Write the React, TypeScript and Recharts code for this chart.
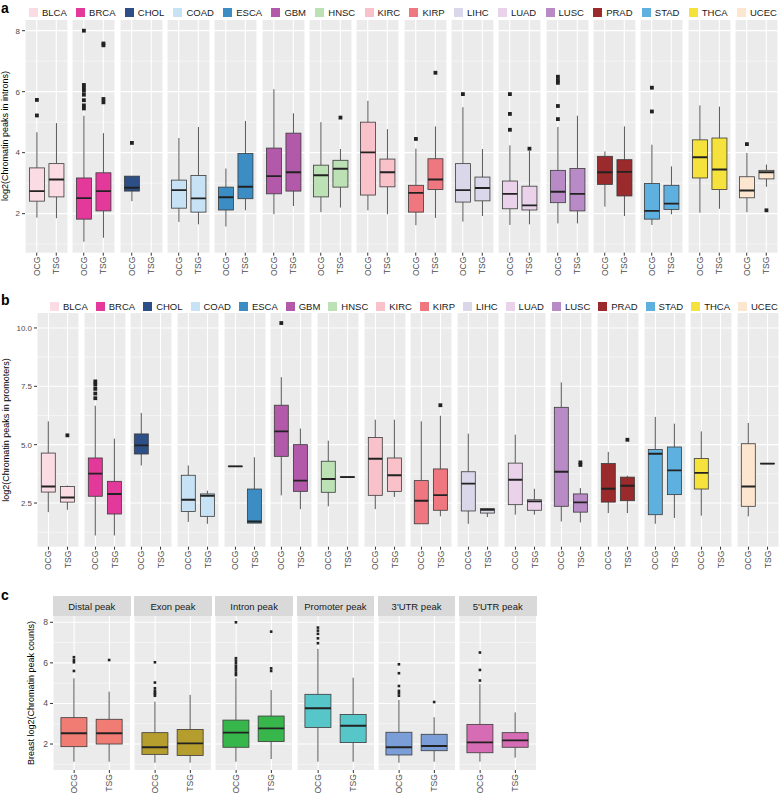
import React from "react";
import { ComposedChart, Bar, XAxis, YAxis, CartesianGrid } from "recharts";

// cancer types shown in panels a and b
const CANCERS = ["BLCA", "BRCA", "CHOL", "COAD", "ESCA", "GBM", "HNSC", "KIRC", "KIRP", "LIHC", "LUAD", "LUSC", "PRAD", "STAD", "THCA", "UCEC"];
const CANCER_COLORS = ["#FBDCE4", "#E2399A", "#2C4F87", "#C6E2F4", "#3B8DC3", "#B259A9", "#BBE1B5", "#F9C1CA", "#EF7880", "#D9D7E9", "#EAD3EA", "#B98BC6", "#9A2A2B", "#5EB1DE", "#F6E23C", "#FCE6D0"];
const GROUPS = ["OCG", "TSG"];

// box stats: [lower whisker, q1, median, q3, upper whisker]
type Stats = number[] | null;

// panel a: introns
const INTRON_OCG: Stats[] = [
  [1.87, 2.41, 2.74, 3.5, 4.67], [1.08, 1.82, 2.51, 3.17, 5.21], [2.41, 2.74, 2.85, 3.23, 3.23], [1.73, 2.18, 2.77, 3.1, 4.48],
  [1.58, 2.12, 2.54, 2.87, 3.48], [1.98, 2.65, 3.23, 4.15, 6.08], [2.05, 2.55, 3.26, 3.59, 5.0], [2.11, 2.61, 4.01, 5.0, 5.7],
  [1.62, 2.05, 2.68, 2.93, 4.13], [1.74, 2.38, 2.77, 3.64, 5.49], [1.63, 2.16, 2.65, 3.07, 4.24], [1.68, 2.36, 2.72, 3.42, 4.84],
  [2.23, 2.96, 3.36, 3.88, 4.04], [1.63, 1.82, 2.09, 2.99, 4.26], [2.03, 3.17, 3.85, 4.42, 5.55], [2.05, 2.52, 2.76, 3.21, 3.99],
];
const INTRON_OCG_OUT: number[][] = [
  [5.73, 5.22], [8.0, 6.22, 6.12, 6.03, 5.9, 5.72, 5.55, 5.45], [4.32], [], [], [], [], [], [4.45], [5.92], [5.92, 5.27, 4.75],
  [6.49, 6.38, 6.29, 5.53, 5.1], [], [6.13, 5.35], [], [4.28],
];
const INTRON_TSG: Stats[] = [
  [1.85, 2.55, 3.12, 3.64, 4.97], [1.21, 2.09, 2.74, 3.34, 4.64], null, [1.65, 2.05, 2.5, 3.25, 4.84],
  [2.11, 2.49, 2.88, 3.97, 5.04], [2.25, 2.74, 3.36, 4.64, 5.29], [2.2, 2.87, 3.47, 3.75, 4.12], [1.98, 2.88, 3.36, 3.79, 4.77],
  [1.86, 2.79, 3.12, 3.8, 4.86], [1.92, 2.42, 2.84, 3.2, 4.12], [1.65, 2.12, 2.27, 2.9, 4.05], [1.68, 2.09, 2.65, 3.48, 5.21],
  [1.92, 2.58, 3.37, 3.77, 4.86], [1.98, 2.14, 2.33, 2.93, 3.55], [2.16, 2.79, 3.45, 4.48, 5.51], [2.88, 3.14, 3.36, 3.42, 3.61],
];
const INTRON_TSG_OUT: number[][] = [
  [], [7.58, 7.52, 5.76, 5.65], [], [], [], [], [5.15], [], [6.62], [], [4.13], [], [], [], [], [2.11],
];

// panel b: promoters
const PROMOTER_OCG: Stats[] = [
  [2.11, 2.97, 3.21, 4.64, 6.0], [1.11, 2.79, 3.76, 4.43, 6.67], [4.11, 4.6, 4.97, 5.46, 6.36], [1.69, 2.14, 2.64, 3.69, 4.11],
  [4.05, 4.06, 4.07, 4.08, 4.09], [2.83, 4.5, 5.57, 6.69, 7.89], [2.36, 2.96, 3.53, 4.29, 5.17], [2.24, 2.83, 4.4, 5.31, 6.07],
  [1.61, 1.61, 2.6, 3.46, 6.0], [1.61, 2.16, 3.33, 3.84, 5.47], [2.0, 2.43, 3.5, 4.21, 5.43], [1.71, 2.36, 3.84, 6.6, 7.67],
  [2.07, 2.54, 3.11, 4.19, 4.69], [1.61, 2.0, 4.61, 4.79, 6.19], [1.96, 3.1, 3.79, 4.41, 5.57], [1.93, 2.36, 3.21, 5.04, 5.93],
];
const PROMOTER_OCG_OUT: number[][] = [
  [], [7.71, 7.57, 7.39, 7.19, 6.99], [], [], [], [10.21], [], [], [], [], [], [], [], [], [], [],
];
const PROMOTER_TSG: Stats[] = [
  [2.21, 2.54, 2.74, 3.21, 3.25], [1.11, 2.03, 2.89, 3.43, 5.26], null, [1.61, 1.93, 2.81, 2.89, 3.03],
  [1.64, 1.64, 1.71, 3.1, 4.46], [2.24, 3.0, 3.46, 5.0, 5.69], [3.58, 3.59, 3.61, 3.63, 3.64], [2.76, 3.0, 3.69, 4.43, 6.07],
  [1.93, 2.19, 2.84, 3.96, 6.24], [1.9, 2.07, 2.21, 2.26, 2.29], [2.0, 2.19, 2.57, 2.64, 3.11], [1.67, 2.11, 2.53, 2.89, 3.14],
  [2.07, 2.6, 3.24, 3.61, 3.67], [1.86, 2.86, 3.9, 4.9, 5.9], null, [4.17, 4.18, 4.19, 4.2, 4.21],
];
const PROMOTER_TSG_OUT: number[][] = [
  [5.4], [], [], [], [], [], [], [], [6.69], [], [], [4.24, 4.13], [5.21], [], [], [],
];

// panel c: breast, by peak type
const PEAK_TYPES = ["Distal peak", "Exon peak", "Intron peak", "Promoter peak", "3'UTR peak", "5'UTR peak"];
const PEAK_COLORS = ["#F17C73", "#B59D2E", "#37B64B", "#57C6C9", "#7B9ED9", "#D56CB4"];
const BREAST_OCG: Stats[] = [
  [1.13, 1.87, 2.53, 3.3, 5.24], [1.08, 1.49, 1.84, 2.56, 4.09], [1.13, 1.84, 2.56, 3.18, 5.24],
  [1.13, 2.82, 3.76, 4.45, 6.69], [1.08, 1.46, 1.84, 2.58, 4.17], [1.13, 1.57, 2.08, 2.97, 4.95],
];
const BREAST_OCG_OUT: number[][] = [
  [6.28, 6.14, 6.03, 5.6], [6.03, 5.03, 4.75, 4.63, 4.53, 4.47, 4.38], [8.0, 6.23, 6.11, 5.98, 5.85, 5.73, 5.62, 5.49, 5.4],
  [7.74, 7.59, 7.43, 7.21, 6.97], [5.93, 5.49, 4.86, 4.62, 4.5, 4.38], [6.51, 5.65, 5.13],
];
const BREAST_TSG: Stats[] = [
  [1.13, 2.0, 2.53, 3.22, 4.58], [1.08, 1.44, 2.03, 2.72, 4.42], [1.26, 2.12, 2.77, 3.38, 4.66],
  [1.13, 2.07, 2.9, 3.46, 5.27], [1.13, 1.67, 1.9, 2.48, 3.32], [1.33, 1.84, 2.18, 2.56, 3.56],
];
const BREAST_TSG_OUT: number[][] = [[6.14], [], [7.54, 5.73, 5.6], [], [4.07], []];

const FONT = "'Liberation Sans', Arial, Helvetica, sans-serif";

function makeRows(i: number, ocg: Stats[], ocgOut: number[][], tsg: Stats[], tsgOut: number[][], color: string) {
  return GROUPS.map((g, k) => {
    const s = k === 0 ? ocg[i] : tsg[i];
    const out = k === 0 ? ocgOut[i] : tsgOut[i];
    return {
      g,
      range: s ? [s[0], s[4]] : null,
      stats: s,
      out,
      color,
    };
  });
}

// draws one box from the ranged bar; quartiles are placed along the bar's own pixel span
const BoxShape = (props: any) => {
  const { x, y, width, height, payload, outSize } = props;
  if (!payload || !payload.stats || !isFinite(y) || !isFinite(height)) return null;
  const [lo, q1, med, q3, hi] = payload.stats;
  const top = Math.min(y, y + height);
  const h = Math.abs(height);
  const k = h / (hi - lo);
  const py = (v: number) => top + (hi - v) * k;
  const cx = x + width / 2;
  return (
    <g>
      <line x1={cx} x2={cx} y1={py(hi)} y2={py(q3)} stroke="#444" strokeWidth={0.9} />
      <line x1={cx} x2={cx} y1={py(q1)} y2={py(lo)} stroke="#444" strokeWidth={0.9} />
      <rect x={x} y={py(q3)} width={width} height={Math.max(0.01, py(q1) - py(q3))} fill={payload.color} stroke="#3a3a3a" strokeWidth={0.8} />
      <line x1={x} x2={x + width} y1={py(med)} y2={py(med)} stroke="#222" strokeWidth={1.9} />
      {payload.out.map((v: number, j: number) => (
        <rect key={j} x={cx - outSize / 2} y={py(v) - outSize / 2} width={outSize} height={outSize} fill="#222" />
      ))}
    </g>
  );
};

const XTick = ({ x, y, payload, fontSize }: any) => (
  <text transform={`translate(${x},${y}) rotate(-90)`} textAnchor="end" dominantBaseline="central" fontSize={fontSize} fill="#4d4d4d" fontFamily={FONT}>
    {payload.value}
  </text>
);

interface FacetProps {
  rows: any[];
  domain: number[];
  ticks: number[];
  minor: number[];
  w: number;
  plotH: number;
  axisW: number;
  fmt?: (v: number) => string;
  outSize: number;
  xFont: number;
  yFont: number;
}

function Facet({ rows, domain, ticks, minor, w, plotH, axisW, fmt, outSize, xFont, yFont }: FacetProps) {
  const xH = 26;
  return (
    <ComposedChart width={w + axisW} height={plotH + xH} data={rows} margin={{ top: 0, right: 0, bottom: 0, left: 0 }} barCategoryGap="12.5%">
      <CartesianGrid fill="#EBEBEB" fillOpacity={1} stroke="#FFFFFF" strokeWidth={0.5} vertical={false} horizontalValues={minor} />
      <CartesianGrid stroke="#FFFFFF" strokeWidth={1.1} horizontalValues={ticks} />
      <XAxis
        dataKey="g"
        type="category"
        interval={0}
        padding={{ left: w / 22, right: w / 22 }}
        axisLine={false}
        tickSize={3}
        tickMargin={1}
        tickLine={{ stroke: "#333" }}
        height={xH}
        tick={<XTick fontSize={xFont} />}
      />
      <YAxis
        type="number"
        domain={domain}
        ticks={ticks}
        allowDataOverflow
        hide={axisW === 0}
        width={axisW}
        axisLine={false}
        tickSize={3}
        tickLine={{ stroke: "#333" }}
        tick={{ fontSize: yFont, fill: "#4d4d4d", fontFamily: FONT }}
        tickFormatter={fmt}
      />
      <Bar dataKey="range" isAnimationActive={false} shape={(p: any) => <BoxShape {...p} outSize={outSize} />} />
    </ComposedChart>
  );
}

function Legend({ top, left, right }: { top: number; left: number; right: number }) {
  return (
    <div style={{ position: "absolute", top, left, width: right - left, height: 10, display: "flex", justifyContent: "space-between", alignItems: "center" }}>
      {CANCERS.map((c, i) => (
        <div key={c} style={{ display: "flex", alignItems: "center" }}>
          <span style={{ display: "inline-block", width: 9, height: 9, background: CANCER_COLORS[i], marginRight: 4 }} />
          <span style={{ fontSize: 9.5, color: "#1a1a1a", lineHeight: "10px" }}>{c}</span>
        </div>
      ))}
    </div>
  );
}

function YTitle({ text, cx, cy }: { text: string; cx: number; cy: number }) {
  return (
    <div style={{ position: "absolute", left: cx, top: cy, transform: "translate(-50%,-50%) rotate(-90deg)", whiteSpace: "nowrap", fontSize: 9, color: "#000", lineHeight: "10px" }}>
      {text}
    </div>
  );
}

function PanelLabel({ text, top }: { text: string; top: number }) {
  return <div style={{ position: "absolute", left: 1, top, fontSize: 14, fontWeight: "bold", lineHeight: "16px" }}>{text}</div>;
}

export default function App() {
  // panel a geometry
  const aLeft = 25, aPitch = 47.33, aW = 43, aTop = 20, aH = 232.7, aAxis = 25;
  // panel b geometry
  const bLeft = 37, bPitch = 46.67, bW = 42, bTop = 313.3, bH = 233.7, bAxis = 37;
  // panel c geometry
  const cLeft = 53, cPitch = 81.2, cW = 77.5, cStrip = 596, cTop = 616, cH = 154, cAxis = 53;

  return (
    <div style={{ position: "relative", width: 779, height: 794, fontFamily: FONT, background: "#fff", overflow: "hidden" }}>
      <style>{"body{margin:0}"}</style>

      {/* a */}
      <PanelLabel text="a" top={0} />
      <Legend top={7.5} left={29} right={777} />
      <YTitle text="log2(Chromatin peaks in introns)" cx={5} cy={136} />
      {CANCERS.map((c, i) => (
        <div key={"a" + c} style={{ position: "absolute", top: aTop, left: i === 0 ? aLeft - aAxis : aLeft + i * aPitch }}>
          <Facet
            rows={makeRows(i, INTRON_OCG, INTRON_OCG_OUT, INTRON_TSG, INTRON_TSG_OUT, CANCER_COLORS[i])}
            domain={[0.72, 8.35]}
            ticks={[2, 4, 6, 8]}
            minor={[1, 3, 5, 7]}
            w={aW}
            plotH={aH}
            axisW={i === 0 ? aAxis : 0}
            outSize={3.8}
            xFont={8.5}
            yFont={8}
          />
        </div>
      ))}

      {/* b */}
      <PanelLabel text="b" top={292} />
      <Legend top={301.5} left={50} right={778} />
      <YTitle text="log2(Chromatin peaks in promoters)" cx={6} cy={430} />
      {CANCERS.map((c, i) => (
        <div key={"b" + c} style={{ position: "absolute", top: bTop, left: i === 0 ? bLeft - bAxis : bLeft + i * bPitch }}>
          <Facet
            rows={makeRows(i, PROMOTER_OCG, PROMOTER_OCG_OUT, PROMOTER_TSG, PROMOTER_TSG_OUT, CANCER_COLORS[i])}
            domain={[0.63, 10.64]}
            ticks={[2.5, 5, 7.5, 10]}
            minor={[1.25, 3.75, 6.25, 8.75]}
            w={bW}
            plotH={bH}
            axisW={i === 0 ? bAxis : 0}
            fmt={(v) => v.toFixed(1)}
            outSize={3.8}
            xFont={8.5}
            yFont={8}
          />
        </div>
      ))}

      {/* c */}
      <PanelLabel text="c" top={587} />
      <YTitle text="Breast log2(Chromatin peak counts)" cx={31} cy={693} />
      {PEAK_TYPES.map((p, i) => (
        <React.Fragment key={"c" + p}>
          <div style={{ position: "absolute", top: cStrip, left: cLeft + i * cPitch, width: cW, height: cTop - cStrip, background: "#D9D9D9", display: "flex", alignItems: "center", justifyContent: "center", fontSize: 9.5, color: "#1a1a1a" }}>
            {p}
          </div>
          <div style={{ position: "absolute", top: cTop, left: i === 0 ? cLeft - cAxis : cLeft + i * cPitch }}>
            <Facet
              rows={makeRows(i, BREAST_OCG, BREAST_OCG_OUT, BREAST_TSG, BREAST_TSG_OUT, PEAK_COLORS[i])}
              domain={[0.72, 8.31]}
              ticks={[2, 4, 6, 8]}
              minor={[1, 3, 5, 7]}
              w={cW}
              plotH={cH}
              axisW={i === 0 ? cAxis : 0}
              outSize={2.6}
              xFont={8.6}
              yFont={8.5}
            />
          </div>
        </React.Fragment>
      ))}
    </div>
  );
}
